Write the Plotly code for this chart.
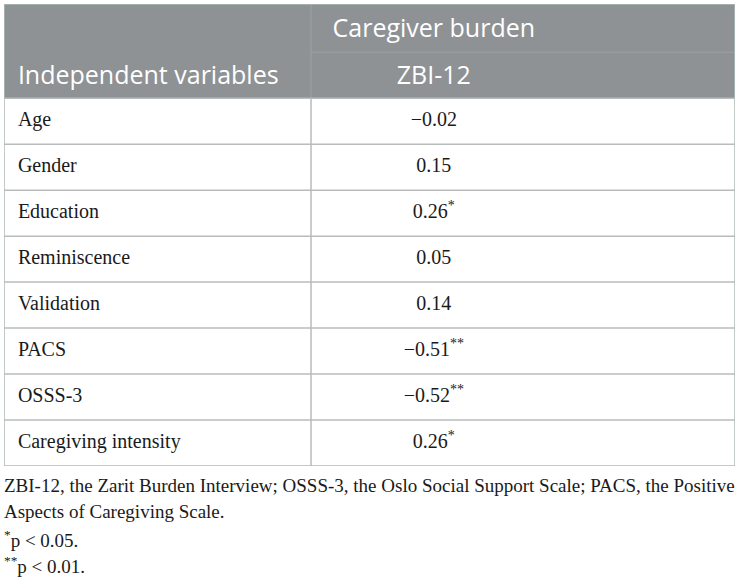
import plotly.graph_objects as go

# table content
variables = [
    "Age", "Gender", "Education", "Reminiscence",
    "Validation", "PACS", "OSSS-3", "Caregiving intensity",
]
coefs = ["−0.02", "0.15", "0.26", "0.05", "0.14", "−0.51", "−0.52", "0.26"]
stars = ["", "", "*", "", "", "**", "**", "*"]

group_header = "Caregiver burden"
col_headers = ["Independent variables", "ZBI-12"]

footnotes = [
    "ZBI-12, the Zarit Burden Interview; OSSS-3, the Oslo Social Support Scale; PACS, the Positive",
    "Aspects of Caregiving Scale.",
    "<sup>*</sup>p < 0.05.",
    "<sup>**</sup>p < 0.01.",
]

HEADER_BG = "#8e9295"
GRID = "#b9bcbc"
BORDER = "#aebab6"
TEXT = "#1a1a1a"
SERIF = "Liberation Serif, Times New Roman, serif"
SANS = "Open Sans, Noto Sans, sans-serif"

HEAD_TOP = -2.05   # header spans two sub-rows above row 0
SPLIT = 0.42       # divider between the two columns (fraction of width)
VAL_X = 0.588      # centre of value text
PAD_X = 0.019

n = len(variables)
row_mid = [i + 0.5 for i in range(n)]
cell_text = [f"{c}<sup>{s}</sup>" if s else c for c, s in zip(coefs, stars)]

fig = go.Figure()

fig.add_trace(go.Scatter(
    x=[PAD_X] * n, y=row_mid, text=variables, mode="text",
    textposition="middle right",
    textfont=dict(family=SERIF, size=20, color=TEXT),
    hoverinfo="skip", showlegend=False,
))
fig.add_trace(go.Scatter(
    x=[VAL_X] * n, y=row_mid, text=cell_text, mode="text",
    textposition="middle center",
    textfont=dict(family=SERIF, size=20, color=TEXT),
    hoverinfo="skip", showlegend=False,
))

# header texts
fig.add_trace(go.Scatter(
    x=[PAD_X, VAL_X, VAL_X],
    y=[-0.45, -0.45, -1.47],
    text=[col_headers[0], col_headers[1], group_header],
    mode="text",
    textposition=["middle right", "middle center", "middle center"],
    textfont=dict(family=SANS, size=25, color="white"),
    hoverinfo="skip", showlegend=False,
))

shapes = [
    dict(type="rect", x0=0, x1=1, y0=HEAD_TOP, y1=0,
         fillcolor=HEADER_BG, line=dict(width=0), layer="below"),
    dict(type="line", x0=SPLIT, x1=1, y0=-1, y1=-1,
         line=dict(color="#9ca0a2", width=1.2)),
    dict(type="line", x0=SPLIT, x1=SPLIT, y0=HEAD_TOP, y1=0,
         line=dict(color="#9ca0a2", width=1.2)),
    dict(type="line", x0=SPLIT, x1=SPLIT, y0=0, y1=n,
         line=dict(color=GRID, width=1.5)),
]
for i in range(n):
    shapes.append(dict(type="line", x0=0, x1=1, y0=i, y1=i,
                       line=dict(color=GRID, width=1.5)))
shapes.append(dict(type="rect", x0=0, x1=1, y0=HEAD_TOP, y1=n,
                   line=dict(color=BORDER, width=1.5)))

annotations = []
for k, line in enumerate(footnotes):
    annotations.append(dict(
        text=line, xref="paper", yref="paper", x=0, y=0,
        xanchor="left", yanchor="top", yshift=-7 - k * 26,
        showarrow=False, align="left", xshift=-2,
        font=dict(family=SERIF, size=19, color=TEXT),
    ))

fig.update_layout(
    width=739, height=580,
    margin=dict(l=4, r=4, t=4, b=114),
    paper_bgcolor="white", plot_bgcolor="white",
    shapes=shapes, annotations=annotations,
    xaxis=dict(range=[0, 1], visible=False, fixedrange=True),
    yaxis=dict(range=[n, HEAD_TOP], visible=False, fixedrange=True),
)

fig.write_html(
    "out.html",
    config=dict(displayModeBar=False),
    post_script="document.body.style.margin='0';",
)
